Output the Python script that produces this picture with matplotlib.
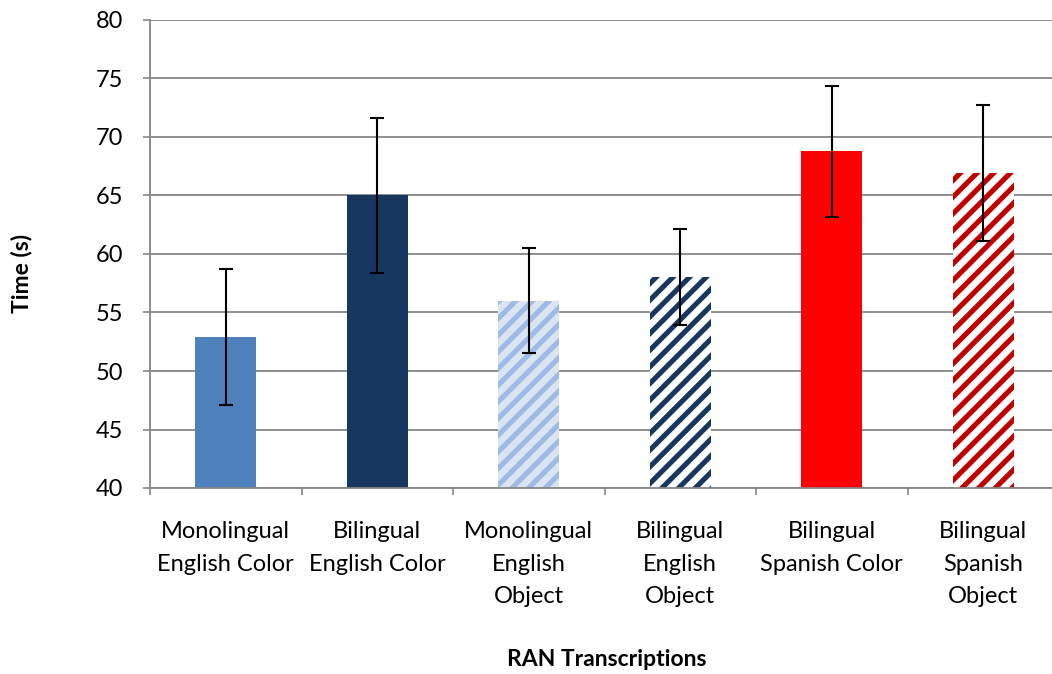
import matplotlib
matplotlib.use('Agg')
from matplotlib import pyplot as plt
import numpy as np

categories = ['Monolingual\nEnglish Color', 'Bilingual\nEnglish Color',
              'Monolingual\nEnglish\nObject', 'Bilingual\nEnglish\nObject',
              'Bilingual\nSpanish Color', 'Bilingual\nSpanish\nObject']
means = [52.9, 65.0, 56.0, 58.0, 68.8, 66.9]
errors = [5.8, 6.6, 4.5, 4.1, 5.6, 5.8]

face_colors = ['#4f81bd', '#17375e', '#dbe5f1', '#ffffff', '#ff0000', '#ffffff']
stripe_colors = ['#4f81bd', '#17375e', '#9dbbe6', '#17375e', '#ff0000', '#c00000']
hatches = [None, None, '//', '//', None, '//']

plt.rcParams['font.family'] = ['Lato', 'DejaVu Sans']
plt.rcParams['hatch.linewidth'] = 3.7

fig = plt.figure(figsize=(10.52, 6.74), dpi=100)
ax = fig.add_axes([150 / 1052, 1 - 488 / 674, 909 / 1052, 468 / 674])

x = np.arange(len(categories))
for i in range(len(categories)):
    ax.bar(x[i], means[i] - 40, bottom=40, width=0.4, color=face_colors[i],
           edgecolor=stripe_colors[i], linewidth=0, hatch=hatches[i], zorder=2)
ax.errorbar(x, means, yerr=errors, fmt='none', ecolor='black', elinewidth=1.5,
            capsize=5, capthick=1.5, zorder=3)

ax.set_xlim(-0.5, len(categories) - 0.5)
ax.set_ylim(40, 80)
ax.set_yticks(range(40, 81, 5))
ax.yaxis.grid(True, color='#868686', linewidth=1.3, zorder=0)
ax.set_axisbelow(True)

ax.set_xticks(x)
ax.set_xticklabels(categories, fontsize=17, linespacing=1.68)
ax.set_xticks(np.arange(-0.5, len(categories), 1), minor=True)
ax.tick_params(axis='x', which='major', length=0, pad=24)
ax.tick_params(axis='x', which='minor', length=5, width=1.2, color='#868686')
ax.tick_params(axis='y', length=5, width=1.2, color='#868686', labelsize=17, pad=14)

for s in ['top', 'right']:
    ax.spines[s].set_visible(False)
for s in ['left', 'bottom']:
    ax.spines[s].set_color('#868686')
    ax.spines[s].set_linewidth(1.3)

fig.text(22 / 1052, 1 - 273 / 674, 'Time (s)', fontsize=16.5, fontweight='bold',
         rotation=90, ha='center', va='center')
fig.text(607 / 1052, 1 - 660 / 674, 'RAN Transcriptions', fontsize=16.5,
         fontweight='bold', ha='center', va='center')

fig.savefig('out.png', dpi=100)
